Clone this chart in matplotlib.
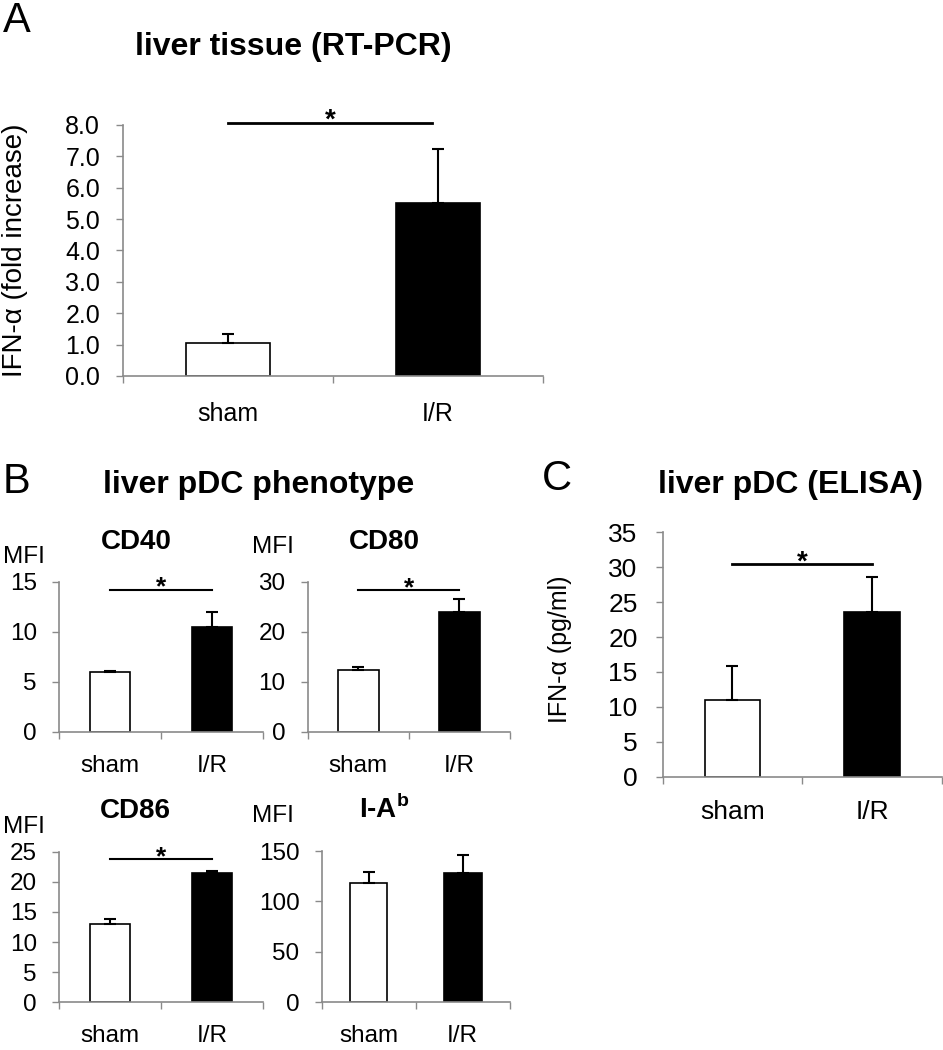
import matplotlib
matplotlib.use('Agg')
import matplotlib.pyplot as plt
import numpy as np

plt.rcParams['font.family'] = ['Liberation Sans', 'DejaVu Sans']
plt.rcParams['mathtext.fontset'] = 'custom'
plt.rcParams['mathtext.rm'] = 'Liberation Sans'
plt.rcParams['mathtext.bf'] = 'Liberation Sans:bold'

# data (mean, upper error)
groups = ['sham', 'I/R']
rtpcr_mean = [1.05, 5.5]
rtpcr_err = [0.28, 1.75]
cd40_mean = [6.0, 10.5]
cd40_err = [0.1, 1.5]
cd80_mean = [12.3, 23.9]
cd80_err = [0.7, 2.6]
cd86_mean = [13.0, 21.5]
cd86_err = [0.8, 0.25]
iab_mean = [118.5, 128.5]
iab_err = [10.3, 18.0]
elisa_mean = [10.95, 23.65]
elisa_err = [4.95, 5.0]

W, H = 943, 1050
GRAY = '#8a8a8a'
fig = plt.figure(figsize=(W / 100, H / 100), dpi=100)


def axes_px(x0, x1, ytop, ybot):
    return fig.add_axes([x0 / W, 1 - ybot / H, (x1 - x0) / W, (ybot - ytop) / H])


def ftext(x, y, s, **kw):
    fig.text(x / W, 1 - y / H, s, **kw)


def bar_panel(ax, means, errs, ymax, step, fmt, fs, ypad, xpad=17):
    x = np.arange(len(groups))
    ax.bar(x, means, width=0.4, color=['white', 'black'], edgecolor='black',
           linewidth=1.2, zorder=2)
    ax.errorbar(x, means, yerr=[[0] * len(errs), errs], fmt='none', ecolor='black',
                elinewidth=1.5, capsize=4, capthick=1.5, zorder=3)
    ax.set_xlim(-0.5, 1.5)
    ax.set_ylim(0, ymax)
    ticks = np.arange(0, ymax + step / 2, step)
    ax.set_yticks(ticks)
    ax.set_yticklabels([fmt % t for t in ticks], fontsize=fs)
    ax.set_xticks([-0.5, 0.5, 1.5])
    ax.set_xticklabels([])
    ax.set_xticks(x, minor=True)
    ax.set_xticklabels(groups, minor=True, fontsize=fs)
    ax.tick_params(axis='x', which='major', length=5, width=1, color=GRAY)
    ax.tick_params(axis='x', which='minor', length=0, pad=xpad)
    ax.tick_params(axis='y', length=5, width=1, color=GRAY, pad=ypad)
    for s in ['top', 'right']:
        ax.spines[s].set_visible(False)
    for s in ['left', 'bottom']:
        ax.spines[s].set_color(GRAY)
        ax.spines[s].set_linewidth(1.2)
    ax.set_facecolor('none')


def sig(ax, y, lw, fs, x1=1.0):
    ax.plot([0, x1], [y, y], color='black', lw=lw, clip_on=False, zorder=4)
    ax.annotate('*', xy=((0 + x1) / 2, y), xytext=(0, -5), textcoords='offset pixels',
                ha='center', va='baseline', fontsize=fs, fontweight='bold',
                annotation_clip=False)


# panel A
axA = axes_px(123, 543, 125, 376)
bar_panel(axA, rtpcr_mean, rtpcr_err, 8, 1, '%.1f', 18, 11.5, xpad=19)
sig(axA, 8.06, 2, 20, x1=0.97)
axA.set_ylabel('IFN-α (fold increase)', fontsize=20)
axA.yaxis.set_label_coords(-0.225, 0.5)
ftext(3, 32, 'A', fontsize=30)
ftext(293, 55, 'liver tissue (RT-PCR)', fontsize=23, fontweight='bold', ha='center')

# panel B
ftext(3, 493, 'B', fontsize=30)
ftext(259, 493, 'liver pDC phenotype', fontsize=23, fontweight='bold', ha='center')

ax40 = axes_px(59, 263, 581.7, 731.7)
bar_panel(ax40, cd40_mean, cd40_err, 15, 5, '%d', 17.5, 11)
sig(ax40, 14.2, 1.5, 19)
ftext(136, 549, 'CD40', fontsize=20, fontweight='bold', ha='center')
ftext(3, 563, 'MFI', fontsize=17.5)

ax80 = axes_px(307.7, 510, 581.7, 731.7)
bar_panel(ax80, cd80_mean, cd80_err, 30, 10, '%d', 17.5, 11)
sig(ax80, 28.3, 1.5, 19)
ftext(384, 549, 'CD80', fontsize=20, fontweight='bold', ha='center')
ftext(252, 553, 'MFI', fontsize=17.5)

ax86 = axes_px(59, 263, 851.7, 1002.3)
bar_panel(ax86, cd86_mean, cd86_err, 25, 5, '%d', 17.5, 11, xpad=16)
sig(ax86, 23.8, 1.5, 19)
ftext(135, 818, 'CD86', fontsize=20, fontweight='bold', ha='center')
ftext(3, 833, 'MFI', fontsize=17.5)

axIA = axes_px(321.7, 509.7, 851, 1002.3)
bar_panel(axIA, iab_mean, iab_err, 150, 50, '%d', 17.5, 11, xpad=16)
ftext(384, 818, r'I-A$^{\mathbf{b}}$', fontsize=20, fontweight='bold', ha='center')
ftext(252, 822, 'MFI', fontsize=17.5)

# panel C
axC = axes_px(662.7, 941.7, 532.3, 776.7)
bar_panel(axC, elisa_mean, elisa_err, 35, 5, '%d', 19, 13)
sig(axC, 30.4, 2, 20)
axC.set_ylabel('IFN-α (pg/ml)', fontsize=18)
axC.yaxis.set_label_coords(-0.325, 0.52)
ftext(542, 490, 'C', fontsize=30)
ftext(790, 493, 'liver pDC (ELISA)', fontsize=23, fontweight='bold', ha='center')

fig.savefig('out.png', dpi=100)
